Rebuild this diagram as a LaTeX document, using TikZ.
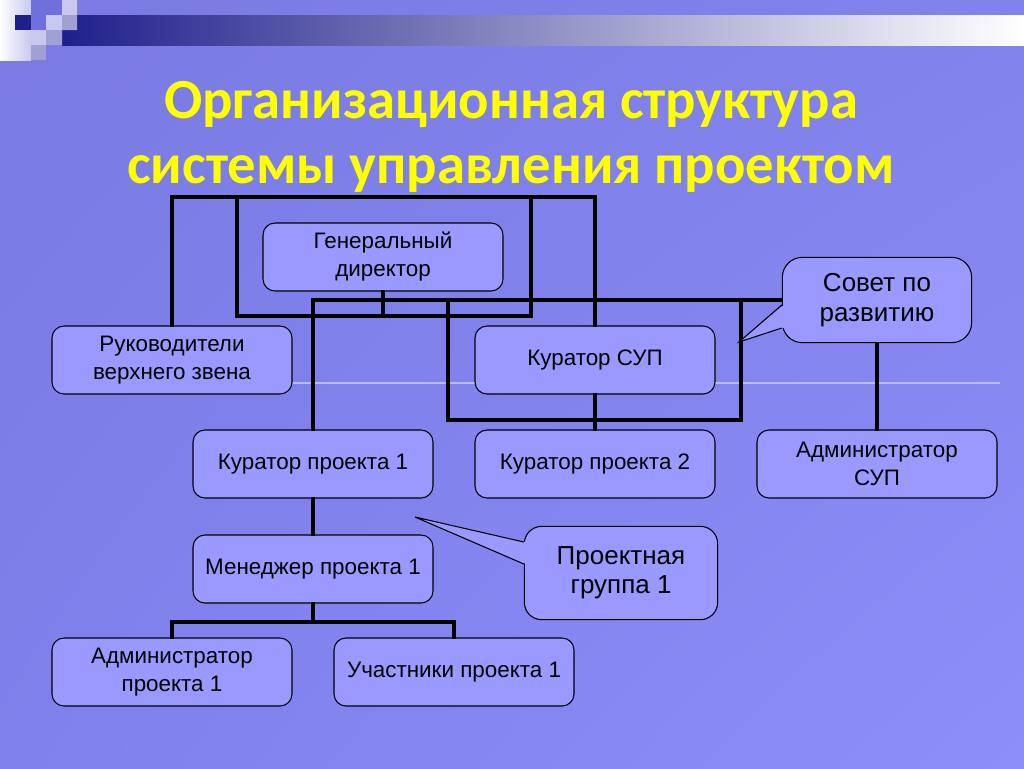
\documentclass[tikz,border=0pt]{standalone}
\usepackage{fontspec}
\setmainfont{Liberation Sans}
\newfontfamily\titlefont{Carlito}
\usetikzlibrary{positioning,shadings}

\definecolor{bgTL}{RGB}{122,122,226}
\definecolor{bgTR}{RGB}{130,130,236}
\definecolor{bgBL}{RGB}{128,128,236}
\definecolor{bgBR}{RGB}{142,142,250}
\definecolor{boxfill}{RGB}{153,153,255}
\definecolor{navy}{RGB}{32,32,140}
\definecolor{tileblue}{RGB}{112,112,220}
\definecolor{tilelight}{RGB}{200,200,238}
\definecolor{tilegray}{RGB}{160,160,212}
\definecolor{titleyellow}{RGB}{255,255,0}

\begin{document}
\begin{tikzpicture}[x=0.75pt,y=-0.75pt,
  orgbox/.style={draw=black, line width=0.8pt, fill=boxfill, rounded corners=9pt,
    minimum width=180pt, minimum height=51pt, align=center, inner sep=2pt,
    font=\fontsize{16.8}{21}\selectfont},
  cloud/.style={orgbox, rounded corners=15pt, font=\fontsize{19.5}{22}\selectfont},
  link/.style={line width=2.3pt, line cap=rect},
  tip/.style={draw=black, line width=0.8pt}]
\useasboundingbox (0,0) rectangle (1024,768);

% background and the corner pattern
\shade[upper left=bgTL, upper right=bgTR, lower left=bgBL, lower right=bgBR] (0,0) rectangle (1024,768);
\shade[left color=white, right color=tilelight] (0,0) rectangle (31,60);
\shade[left color=navy, right color=white] (62,15) rectangle (1024,45);
\fill[navy] (15,15) rectangle (31,30);
\fill[tileblue] (31,0) rectangle (62,15) (31,15) rectangle (46,30);
\fill[tilelight] (62,0) rectangle (77,15) (46,15) rectangle (62,30) (31,30) rectangle (46,45);
\fill[tilegray] (62,15) rectangle (77,30) (46,30) rectangle (62,45) (31,45) rectangle (46,60);
\draw[white, opacity=0.45, line width=1.2pt] (293,383) -- (1000,383);

\node[font=\titlefont\bfseries\fontsize{42.5}{49}\selectfont, text=titleyellow, align=center]
  (title) at (511,137) {Организационная структура\\системы управления проектом};

\node[orgbox] (gd) at (383,257) {Генеральный\\директор};
\node[orgbox] (heads) at (172,360) {Руководители\\верхнего звена};
\node[orgbox] (kurSUP) at (595,360) {Куратор СУП};
\node[cloud, minimum width=142pt, minimum height=64pt] (sovet) at (877,300) {Совет по\\развитию};
\node[orgbox] (kur1) at (313,464) {Куратор проекта 1};
\node[orgbox] (kur2) at (595,464) {Куратор проекта 2};
\node[orgbox] (admSUP) at (877,464) {Администратор\\СУП};
\node[orgbox] (man1) at (313,569) {Менеджер проекта 1};
\node[cloud, rounded corners=13pt, minimum width=145pt, minimum height=70pt] (group1) at (621,573) {Проектная\\группа 1};
\node[orgbox] (adm1) at (172,672) {Администратор\\проекта 1};
\node[orgbox] (team1) at (454,672) {Участники проекта 1};

% frames round the director
\coordinate (frameTop) at (383,197);
\coordinate (innerTL) at (237,197);
\coordinate (innerBR) at (531,316);
\draw[link] (heads.north) |- (frameTop) -| (kurSUP.north);
\draw[link] (innerTL) rectangle (innerBR);
\draw[link] (gd.south) -- (gd.south |- innerBR);

% bus to the council
\coordinate (loopTL) at (448,300);
\coordinate (loopBR) at (741,420);
\draw[link] (kur1.north) |- (sovet.west);
\draw[link] (loopTL) rectangle (loopBR);
\draw[link] (kurSUP.south) -- (kur2.north);
\draw[link] (sovet.south) -- (admSUP.north);

% project 1
\coordinate (split) at (313,622);
\draw[link] (kur1.south) -- (man1.north);
\draw[link] (man1.south) -- (split);
\draw[link] (adm1.north) |- (split) -| (team1.north);

% callout pointers
\coordinate (sovetTip) at (739,342);
\fill[boxfill] ([shift={(2,5)}]sovet.west) -- (sovetTip) -- ([shift={(2,28)}]sovet.west) -- cycle;
\draw[tip] ([shift={(0,5)}]sovet.west) -- (sovetTip) -- ([shift={(0,28)}]sovet.west);
\coordinate (groupTip) at (415,517);
\fill[boxfill] ([shift={(2,-31)}]group1.west) -- (groupTip) -- ([shift={(2,-9)}]group1.west) -- cycle;
\draw[tip] ([shift={(0,-31)}]group1.west) -- (groupTip) -- ([shift={(0,-9)}]group1.west);
\end{tikzpicture}
\end{document}
